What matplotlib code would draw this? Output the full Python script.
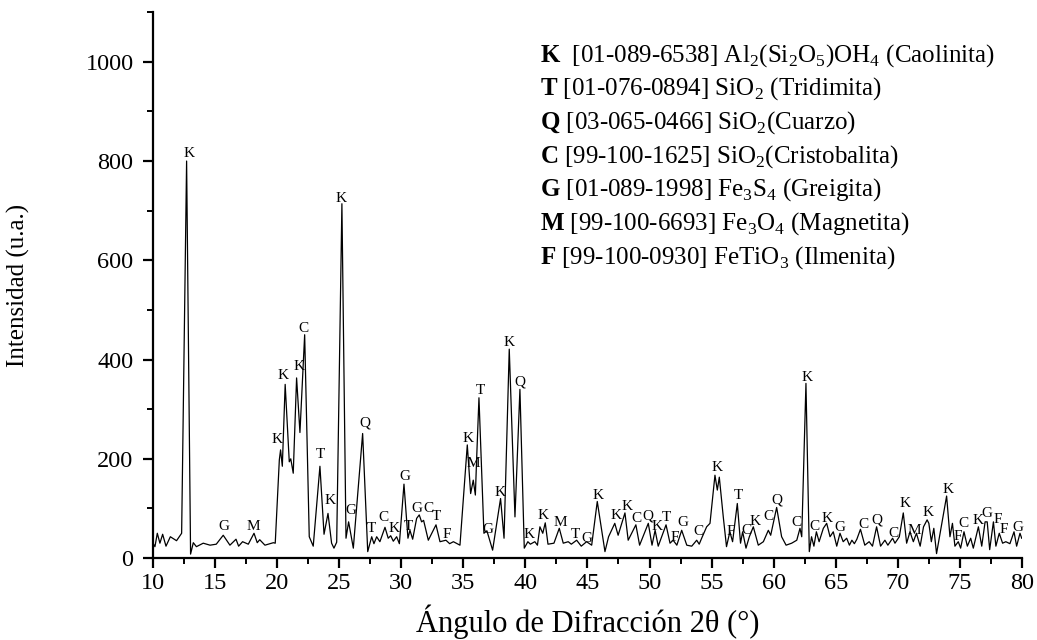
import numpy as np
import matplotlib.pyplot as plt
from matplotlib.ticker import MultipleLocator

plt.rcParams['font.family'] = ['Liberation Serif', 'DejaVu Serif']
plt.rcParams['mathtext.fontset'] = 'custom'
plt.rcParams['mathtext.rm'] = 'Liberation Serif'
plt.rcParams['mathtext.bf'] = 'Liberation Serif:bold'

#   difractograma (2theta, intensidad)
two_theta = [10.0, 10.16, 10.35, 10.56, 10.78, 11.05, 11.4, 11.9, 12.31, 12.71, 13.03,
             13.25, 13.5, 14.05, 14.6, 15.1, 15.66, 16.2, 16.69, 16.9, 17.22, 17.68,
             18.14, 18.4, 18.6, 19.02, 19.7, 19.85, 20.18, 20.28, 20.42, 20.65, 20.98,
             21.1, 21.3, 21.57, 21.84, 22.22, 22.59, 22.91, 23.45, 23.78, 24.1, 24.39,
             24.58, 24.8, 25.22, 25.55, 25.76, 26.14, 26.89, 27.3, 27.62, 27.8, 28.02,
             28.28, 28.69, 28.95, 29.15, 29.36, 29.63, 29.85, 30.22, 30.54, 30.7, 30.92,
             31.24, 31.45, 31.64, 31.8, 32.18, 32.8, 33.12, 33.6, 33.9, 34.2, 34.73,
             35.32, 35.59, 35.8, 35.97, 36.07, 36.26, 36.66, 36.9, 37.36, 38.0, 38.28,
             38.7, 39.16, 39.56, 39.91, 40.2, 40.4, 40.76, 40.97, 41.17, 41.4, 41.6,
             41.82, 42.3, 42.73, 43.05, 43.45, 43.7, 44.13, 44.5, 44.93, 45.34, 45.79,
             46.41, 46.7, 46.94, 47.2, 47.47, 48.02, 48.28, 48.9, 49.2, 49.9, 50.2,
             50.45, 50.7, 51.33, 51.65, 51.9, 52.2, 52.59, 53.0, 53.4, 53.8, 54.0,
             54.2, 54.6, 54.87, 55.27, 55.46, 55.62, 55.94, 56.2, 56.47, 56.69, 57.07,
             57.33, 57.5, 57.77, 58.04, 58.36, 58.76, 59.17, 59.57, 59.76, 60.24, 60.64,
             61.0, 61.45, 61.86, 62.12, 62.26, 62.6, 62.87, 63.05, 63.24, 63.44, 63.66,
             64.0, 64.27, 64.54, 64.8, 65.08, 65.34, 65.6, 65.88, 66.1, 66.3, 66.5,
             66.7, 66.99, 67.34, 67.69, 67.96, 68.29, 68.61, 68.96, 69.2, 69.58, 69.77,
             70.12, 70.44, 70.71, 70.98, 71.25, 71.5, 71.8, 72.07, 72.36, 72.5, 72.7,
             72.9, 73.12, 73.93, 74.2, 74.4, 74.6, 74.87, 75.06, 75.33, 75.6, 75.87,
             76.08, 76.49, 76.76, 77.03, 77.2, 77.4, 77.7, 77.9, 78.17, 78.44, 78.7,
             79.03, 79.36, 79.57, 79.84, 79.98]
intensity = [30, 23, 50, 30, 48, 24, 43, 35, 50, 800, 8,
             31, 23, 30, 26, 28, 46, 26, 38, 24, 33, 28,
             50, 31, 37, 26, 31, 30, 198, 218, 185, 350, 194,
             200, 171, 363, 253, 450, 43, 24, 185, 48, 90, 30,
             20, 32, 714, 40, 73, 20, 251, 13, 43, 29, 43,
             33, 62, 40, 45, 34, 43, 29, 149, 40, 56, 38,
             80, 87, 73, 76, 36, 67, 33, 36, 29, 33, 26,
             228, 130, 157, 127, 198, 323, 50, 55, 16, 120, 40,
             421, 83, 340, 20, 33, 28, 33, 26, 63, 50, 71,
             28, 30, 60, 30, 33, 28, 36, 24, 33, 26, 114,
             13, 43, 56, 70, 46, 91, 36, 67, 26, 70, 26,
             56, 24, 67, 30, 36, 26, 56, 26, 24, 36, 28,
             40, 63, 70, 167, 137, 163, 83, 23, 53, 33, 110,
             30, 53, 20, 43, 63, 26, 33, 56, 46, 102, 43,
             26, 30, 36, 60, 43, 352, 13, 43, 24, 53, 33,
             60, 70, 43, 53, 24, 50, 33, 40, 26, 36, 29,
             38, 58, 26, 33, 24, 63, 24, 36, 26, 40, 30,
             43, 91, 30, 53, 33, 50, 24, 63, 77, 70, 33,
             60, 9, 125, 43, 70, 24, 33, 20, 53, 24, 40,
             20, 63, 24, 73, 73, 17, 73, 24, 50, 30, 33,
             29, 53, 24, 50, 40]

#   etiquetas de fases sobre los picos
lab_x = [12.9, 15.72, 18.08, 19.96, 20.5, 21.76, 22.16, 23.45, 24.28, 25.14, 25.92,
         27.08, 27.56, 28.55, 29.39, 30.3, 30.57, 31.24, 32.18, 32.8, 33.7, 35.4,
         35.8, 36.34, 36.96, 38.0, 38.7, 39.56, 40.3, 41.44, 42.79, 44.0, 44.94,
         45.87, 47.3, 48.16, 48.96, 49.9, 50.6, 51.36, 52.05, 52.66, 53.93, 55.43,
         56.53, 57.15, 57.8, 58.5, 59.57, 60.29, 61.85, 62.66, 63.25, 64.32, 65.34,
         67.22, 68.29, 69.63, 70.55, 71.3, 72.46, 74.07, 74.8, 75.28, 76.49, 77.21,
         78.04, 78.55, 79.7]
lab_y = [816, 63, 64, 238, 367, 386, 463, 208, 117, 725, 95,
         272, 60, 82, 60, 164, 64, 100, 100, 83, 48, 241,
         191, 337, 58, 132, 434, 355, 48, 85, 72, 48, 40,
         127, 85, 103, 80, 85, 63, 82, 42, 71, 53, 183,
         53, 127, 55, 73, 83, 117, 71, 364, 64, 79, 62,
         67, 77, 50, 109, 55, 92, 138, 43, 69, 75, 89,
         77, 58, 62]
lab_txt = ['K', 'G', 'M', 'K', 'K', 'K', 'C', 'T', 'K', 'K', 'G',
           'Q', 'T', 'C', 'K', 'G', 'T', 'G', 'C', 'T', 'F', 'K',
           'M', 'T', 'G', 'K', 'K', 'Q', 'K', 'K', 'M', 'T', 'G',
           'K', 'K', 'K', 'C', 'Q', 'K', 'T', 'F', 'G', 'C', 'K',
           'F', 'T', 'C', 'K', 'C', 'Q', 'C', 'K', 'C', 'K', 'G',
           'C', 'Q', 'C', 'K', 'M', 'K', 'K', 'F', 'C', 'K', 'G',
           'F', 'F', 'G']

#   leyenda de fases
leg_lines = [r'$\mathbf{K}$  [01-089-6538] Al$_2$(Si$_2$O$_5$)OH$_4$ (Caolinita)',
             r'$\mathbf{T}$ [01-076-0894] SiO$_2$ (Tridimita)',
             r'$\mathbf{Q}$ [03-065-0466] SiO$_2$(Cuarzo)',
             r'$\mathbf{C}$ [99-100-1625] SiO$_2$(Cristobalita)',
             r'$\mathbf{G}$ [01-089-1998] Fe$_3$S$_4$ (Greigita)',
             r'$\mathbf{M}$ [99-100-6693] Fe$_3$O$_4$ (Magnetita)',
             r'$\mathbf{F}$ [99-100-0930] FeTiO$_3$ (Ilmenita)']

fig = plt.figure(figsize=(10.37, 6.4), dpi=100)
ax = fig.add_axes([0.1475, 0.128, 0.838, 0.853])

ax.plot(two_theta, intensity, color='black', lw=0.9)

for x, y, t in zip(lab_x, lab_y, lab_txt):
    ax.text(x, y, t, ha='center', va='center', fontsize=11)

for i, s in enumerate(leg_lines):
    ax.text(0.445, 0.921 - i * 0.0617, s, transform=ax.transAxes,
            ha='left', va='center', fontsize=18)

ax.set_xlim(10, 80)
ax.set_ylim(0, 1100)
ax.xaxis.set_major_locator(MultipleLocator(5))
ax.xaxis.set_minor_locator(MultipleLocator(2.5))
ax.yaxis.set_major_locator(MultipleLocator(200))
ax.yaxis.set_minor_locator(MultipleLocator(100))
ax.spines['top'].set_visible(False)
ax.spines['right'].set_visible(False)
ax.spines['left'].set_linewidth(1.6)
ax.spines['bottom'].set_linewidth(1.6)
ax.tick_params(which='major', direction='out', length=7, width=1.6, labelsize=17.5)
ax.tick_params(which='minor', direction='out', length=4, width=1.4)
ax.tick_params(axis='y', which='major', pad=7)

ax.set_xlabel('Ángulo de Difracción 2θ (°)', fontsize=22, labelpad=8)
ax.set_ylabel('Intensidad (u.a.)', fontsize=18)
ax.yaxis.set_label_coords(-0.141, 0.5)

fig.savefig('out.png', dpi=100)
